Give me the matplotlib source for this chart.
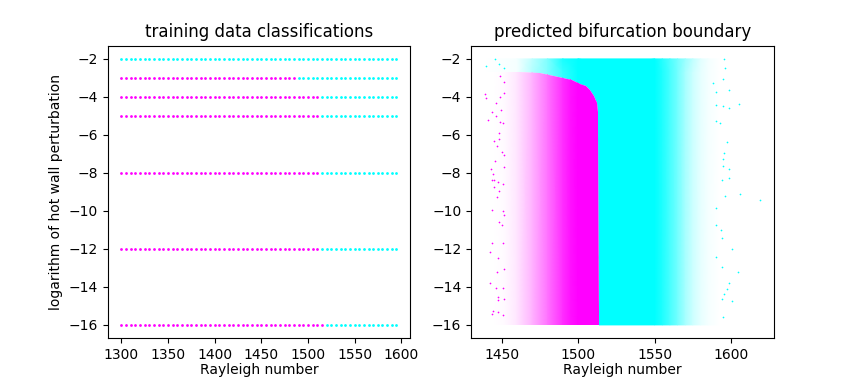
import numpy as np
import matplotlib
matplotlib.use("Agg")
import matplotlib.pyplot as plt
from matplotlib.colors import LinearSegmentedColormap
from matplotlib.patches import Polygon

# left panel: training grid, Ra step
train_ra = list(range(1300, 1600, 5))
train_logs = [-2, -3, -4, -5, -8, -12, -16]
# last magenta Ra on each row (None = row is all cyan)
last_magenta = [None, 1485, 1510, 1510, 1510, 1510, 1515]

# right panel: the cloud is too dense to read point by point, so the core is
# drawn as density read from the picture and only the sparse fringe as points
cyan_ra = [1440, 1460, 1470, 1480, 1490, 1500, 1550, 1555, 1560, 1565, 1570, 1575, 1580, 1585, 1592]
cyan_rows = [-2.0, -2.7, -16.0]
cyan_density = [
    [0.0, 0.04, 0.25, 0.5, 0.9, 1.0, 1.0, 0.85, 0.7, 0.55, 0.4, 0.25, 0.12, 0.05, 0.0],
    [0.0, 0.04, 0.3, 0.5, 0.8, 1.0, 1.0, 0.88, 0.72, 0.55, 0.35, 0.2, 0.1, 0.04, 0.0],
    [0.0, 0.04, 0.3, 0.5, 0.8, 1.0, 1.0, 0.88, 0.72, 0.55, 0.35, 0.2, 0.1, 0.04, 0.0],
]
magenta_ra = [1445, 1452, 1460, 1470, 1480, 1490, 1495, 1500, 1514]
magenta_density = [0.0, 0.02, 0.1, 0.3, 0.55, 0.82, 0.93, 1.0, 1.0]

# edge of the solid magenta area, top left to bottom right
edge_ra = [1462, 1475, 1490, 1496, 1501, 1505, 1508, 1510.5, 1512, 1512.8, 1513.2, 1513.5]
edge_log = [-2.7, -2.75, -3.0, -3.13, -3.3, -3.45, -3.65, -3.95, -4.3, -4.8, -5.4, -16.0]

magenta_ra_pts = [1439.2, 1439.9, 1449, 1451.6, 1451.6, 1449, 1446.4, 1443.8, 1449.7, 1446.4,
                  1441.2, 1449, 1451, 1448.4, 1445.1, 1448.4, 1447, 1450.3, 1451.6, 1445.8,
                  1451.6, 1443.1, 1444.4, 1443.8, 1445.1, 1447.7, 1445.1, 1451, 1448.4, 1447,
                  1443.8, 1451, 1451.6, 1448.4, 1450.3, 1443.8, 1451, 1442.5, 1447.7, 1451.6,
                  1447, 1442.5, 1446.4, 1451, 1447.7, 1447.7, 1451.6, 1444.4, 1447.7, 1443.8, 1451]
magenta_log_pts = [-3.84, -4.05, -2.9, -3.2, -3.8, -4.0, -4.3, -4.8, -4.7, -5.0,
                   -5.2, -5.3, -5.4, -5.9, -6.3, -6.2, -6.6, -6.9, -7.05, -7.4,
                   -7.7, -7.8, -8.05, -8.4, -8.4, -8.5, -8.75, -8.6, -8.95, -9.25,
                   -9.95, -10.0, -10.2, -10.6, -10.75, -11.7, -11.7, -12.15, -12.5, -13.05,
                   -13.2, -13.8, -14.05, -14.05, -14.55, -14.7, -14.65, -15.25, -15.3, -15.4, -15.5]
cyan_ra_pts = [1445.8, 1448.4, 1439.9, 1451.6, 1595.4, 1596, 1594.8, 1588.2, 1598.7, 1590.2,
               1605.2, 1594.8, 1598.7, 1590.2, 1590.2, 1592.8, 1597.4, 1595.4, 1594.8, 1598.7,
               1594.8, 1598.7, 1594.1, 1605.9, 1619, 1596, 1590.2, 1590.2, 1593.5, 1594.1,
               1600.7, 1590.2, 1594.1, 1604.6, 1598.7, 1597.4, 1595.4, 1594.1, 1600.7, 1594.8]
cyan_log_pts = [-2.0, -2.25, -2.4, -2.5, -2.0, -2.5, -3.05, -3.25, -3.65, -3.75,
                -4.4, -4.5, -4.6, -4.45, -5.25, -5.35, -6.35, -6.95, -7.25, -7.8,
                -7.65, -8.25, -8.4, -9.1, -9.45, -9.2, -9.85, -10.75, -11.0, -11.45,
                -12.0, -12.4, -12.95, -13.2, -13.8, -14.1, -14.35, -14.65, -14.75, -15.6]

fig, (ax1, ax2) = plt.subplots(1, 2, figsize=(8.6, 3.8), dpi=100)

for log_val, last in zip(train_logs, last_magenta):
    ra = np.array(train_ra)
    stable = ra <= last if last is not None else np.zeros(len(ra), dtype=bool)
    ax1.scatter(ra[stable], np.full(stable.sum(), log_val), s=4, c="magenta", linewidths=0)
    ax1.scatter(ra[~stable], np.full((~stable).sum(), log_val), s=4, c="cyan", linewidths=0)
ax1.set_xlim(1285, 1610)
ax1.set_ylim(-16.7, -1.3)
ax1.set_xticks(range(1300, 1601, 50))
ax1.set_yticks(range(-16, -1, 2))
ax1.set_title("training data classifications")
ax1.set_xlabel("Rayleigh number", labelpad=1)
ax1.set_ylabel("logarithm of hot wall perturbation")

ax2.set_xlim(1430, 1628)
ax2.set_ylim(-16.7, -1.3)
ax2.set_xticks(range(1450, 1601, 50))
ax2.set_yticks(range(-16, -1, 2))
ax2.set_title("predicted bifurcation boundary")
ax2.set_xlabel("Rayleigh number", labelpad=1)

# opaque ramps: with a transparent start gouraud triangles leave visible seams
cyan_cmap = LinearSegmentedColormap.from_list("c", ["white", "cyan"])
magenta_cmap = LinearSegmentedColormap.from_list("m", ["white", "magenta"])

# cyan stops at the magenta edge, magenta stays inside it
cyan_outline = [(1430, -1.9), (1630, -1.9), (1630, -16.1), (edge_ra[-1], -16.1)]
cyan_outline += list(zip(edge_ra[::-1], edge_log[::-1])) + [(1430, edge_log[0])]
magenta_outline = list(zip(edge_ra, edge_log)) + [(1430, -16.0), (1430, edge_log[0])]

cyan_mesh = ax2.pcolormesh(cyan_ra, cyan_rows, cyan_density, cmap=cyan_cmap, vmin=0, vmax=1, shading="gouraud")
cyan_mesh.set_clip_path(Polygon(cyan_outline, transform=ax2.transData))
magenta_mesh = ax2.pcolormesh(magenta_ra, [edge_log[0], -16.0], [magenta_density, magenta_density],
                              cmap=magenta_cmap, vmin=0, vmax=1, shading="gouraud")
magenta_mesh.set_clip_path(Polygon(magenta_outline, transform=ax2.transData))

ax2.scatter(magenta_ra_pts, magenta_log_pts, s=1.5, c="magenta", linewidths=0)
ax2.scatter(cyan_ra_pts, cyan_log_pts, s=1.5, c="cyan", linewidths=0)

fig.savefig("out.png", dpi=100)
